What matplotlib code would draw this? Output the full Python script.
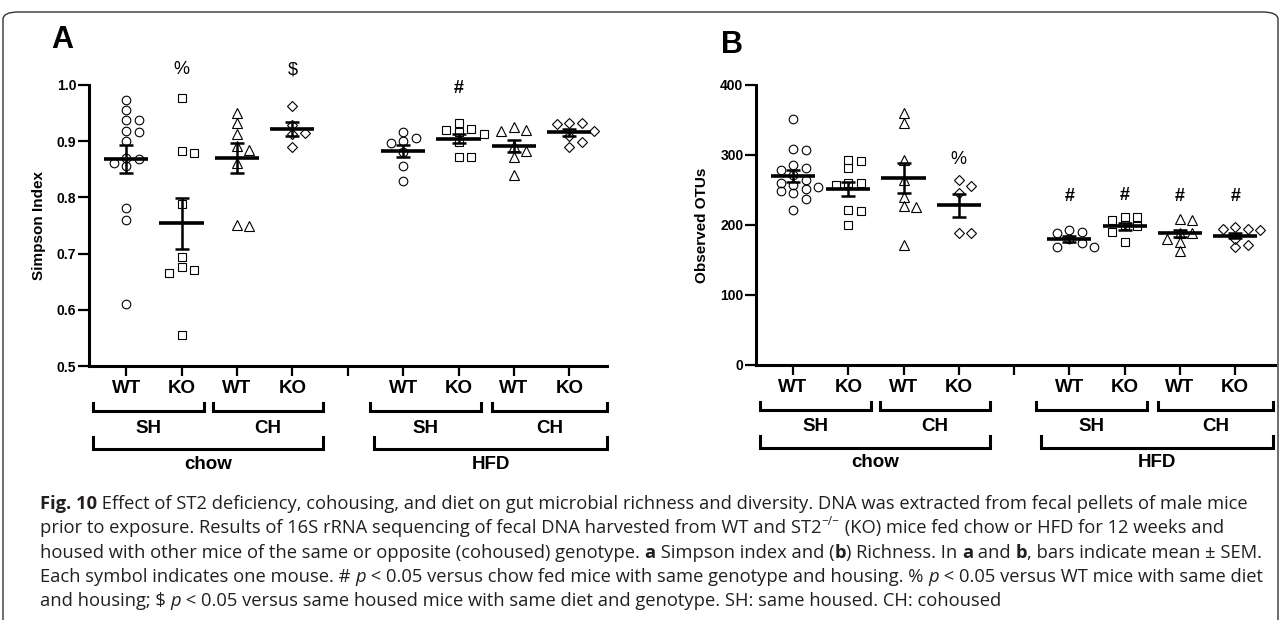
import numpy as np
import matplotlib
matplotlib.use("Agg")
import matplotlib.pyplot as plt
import matplotlib.transforms as mtransforms
from matplotlib.patches import FancyBboxPatch

plt.rcParams['font.family'] = ['Liberation Sans', 'DejaVu Sans']

W, H = 1281, 620

# group order: chow SH WT/KO, chow CH WT/KO, (gap), HFD SH WT/KO, HFD CH WT/KO
group_pos = [1, 2, 3, 4, 6, 7, 8, 9]
tick_pos = [1, 2, 3, 4, 5, 6, 7, 8, 9]
tick_labels = ['WT', 'KO', 'WT', 'KO', '', 'WT', 'KO', 'WT', 'KO']
markers = ['o', 's', '^', 'D', 'o', 's', '^', 'D']
marker_sizes = [6.2, 6.0, 6.6, 4.8, 6.2, 6.0, 6.6, 4.8]

# panel A - Simpson index
simpson_points = [
    [0.973, 0.956, 0.938, 0.937, 0.919, 0.917, 0.900, 0.870, 0.868, 0.862, 0.855, 0.781, 0.760, 0.611],
    [0.976, 0.882, 0.879, 0.788, 0.694, 0.677, 0.670, 0.666, 0.555],
    [0.950, 0.933, 0.913, 0.891, 0.884, 0.861, 0.751, 0.749],
    [0.963, 0.928, 0.914, 0.913, 0.890],
    [0.917, 0.905, 0.901, 0.896, 0.880, 0.856, 0.829],
    [0.933, 0.921, 0.920, 0.917, 0.913, 0.899, 0.871, 0.871],
    [0.926, 0.920, 0.919, 0.892, 0.883, 0.871, 0.840],
    [0.933, 0.933, 0.931, 0.919, 0.910, 0.899, 0.890],
]
simpson_mean = [0.868, 0.754, 0.870, 0.922, 0.883, 0.904, 0.892, 0.916]
simpson_sem = [0.025, 0.045, 0.026, 0.012, 0.011, 0.008, 0.011, 0.006]
simpson_marks = [(2, 1.027, '%'), (4, 1.027, '$'), (7, 0.994, '#')]

# panel B - observed OTUs
otu_points = [
    [352, 308, 307, 286, 281, 278, 271, 264, 260, 257, 254, 252, 248, 245, 237, 221],
    [293, 292, 281, 260, 260, 257, 221, 220, 200],
    [360, 345, 293, 264, 240, 227, 225, 171],
    [264, 256, 245, 189, 188],
    [193, 190, 188, 180, 175, 169, 169],
    [212, 212, 207, 200, 198, 190, 176],
    [208, 207, 189, 189, 180, 176, 163],
    [197, 195, 194, 193, 180, 171, 168],
]
otu_mean = [270, 251, 267, 228, 180, 198, 188, 185]
otu_sem = [9, 10, 22, 16, 4, 5, 5, 4]
otu_marks = [(4, 294, '%'), (6, 240, '#'), (7, 242, '#'), (8, 240, '#'), (9, 240, '#')]

# bracket rows (x0, x1, label)
housing_brackets = [(0.40, 2.41, 'SH'), (2.57, 4.56, 'CH'), (5.40, 7.41, 'SH'), (7.60, 9.68, 'CH')]
diet_brackets = [(0.40, 4.56, 'chow'), (5.48, 9.68, 'HFD')]

caption_lines = [
    [("Fig. 10", 'b'), (" Effect of ST2 deficiency, cohousing, and diet on gut microbial richness and diversity. DNA was extracted from fecal pellets of male mice", 'n')],
    [("prior to exposure. Results of 16S rRNA sequencing of fecal DNA harvested from WT and ST2", 'n'), ("\u2212/\u2212", 's'),
     (" (KO) mice fed chow or HFD for 12 weeks and", 'n')],
    [("housed with other mice of the same or opposite (cohoused) genotype. ", 'n'), ("a", 'b'), (" Simpson index and (", 'n'),
     ("b", 'b'), (") Richness. In ", 'n'), ("a", 'b'), (" and ", 'n'), ("b", 'b'), (", bars indicate mean \u00b1 SEM.", 'n')],
    [("Each symbol indicates one mouse. # ", 'n'), ("p", 'i'), (" < 0.05 versus chow fed mice with same genotype and housing. % ", 'n'),
     ("p", 'i'), (" < 0.05 versus WT mice with same diet", 'n')],
    [("and housing; $ ", 'n'), ("p", 'i'), (" < 0.05 versus same housed mice with same diet and genotype. SH: same housed. CH: cohoused", 'n')],
]


def swarm_offsets(ax, x0, values, min_dist=8.0, step=12.5):
    to_px = ax.transData.transform
    px_per_x = to_px((1, 0))[0] - to_px((0, 0))[0]
    ys = [to_px((x0, v))[1] for v in values]
    cands = [0.0]
    for j in range(1, 12):
        cands += [j * step, -j * step]
    placed = []
    res = [0.0] * len(values)
    for i in sorted(range(len(values)), key=lambda k: -values[k]):
        y = ys[i]
        for c in cands:
            if all((c - px) ** 2 + (y - py) ** 2 >= min_dist ** 2 for px, py in placed):
                break
        placed.append((c, y))
        res[i] = c / px_per_x
    return res


def draw_panel(ax, points, means, sems, marks, ylim, yticks, yfmt, ylabel, xlim):
    ax.set_xlim(*xlim)
    ax.set_ylim(*ylim)
    for g in range(len(group_pos)):
        x0 = group_pos[g]
        offs = swarm_offsets(ax, x0, points[g])
        ax.plot(np.array(offs) + x0, points[g], linestyle='none', marker=markers[g],
                markersize=marker_sizes[g], markerfacecolor='none', markeredgecolor='black',
                markeredgewidth=0.8, zorder=2, clip_on=False)
        ax.hlines(means[g], x0 - 0.4, x0 + 0.4, color='black', lw=2.6, zorder=3)
        ax.errorbar(x0, means[g], yerr=sems[g], fmt='none', ecolor='black', elinewidth=1.8,
                    capsize=4.8, capthick=1.8, zorder=3)
    for x, y, s in marks:
        ax.text(x, y, s, ha='center', va='center', fontsize=13,
                fontweight='bold' if s == '#' else 'normal', clip_on=False)

    for side in ['top', 'right']:
        ax.spines[side].set_visible(False)
    for side in ['left', 'bottom']:
        ax.spines[side].set_linewidth(2.2)
    ax.set_yticks(yticks)
    ax.set_yticklabels([yfmt % v for v in yticks])
    ax.set_xticks(tick_pos)
    ax.set_xticklabels(tick_labels)
    ax.tick_params(axis='y', length=8, width=1.6, labelsize=10, pad=1)
    ax.tick_params(axis='x', length=7, width=1.6, labelsize=13.5, pad=3)
    for lab in ax.get_xticklabels() + ax.get_yticklabels():
        lab.set_fontweight('bold')
    ax.set_ylabel(ylabel, fontsize=11, fontweight='bold', labelpad=8)

    tr = mtransforms.blended_transform_factory(ax.transData, ax.transAxes)
    for row, (y_line, y_top, y_lab) in zip([housing_brackets, diet_brackets],
                                          [(-0.160, -0.132, -0.221), (-0.295, -0.253, -0.349)]):
        for x0, x1, lab in row:
            ax.plot([x0, x0, x1, x1], [y_top, y_line, y_line, y_top], color='black', lw=2.2,
                    transform=tr, clip_on=False, solid_joinstyle='miter')
            ax.text((x0 + x1) / 2, y_lab, lab, transform=tr, ha='center', va='center',
                    fontsize=13.5, fontweight='bold')


fig = plt.figure(figsize=(W / 100, H / 100), dpi=100)

axA = fig.add_axes([89 / W, (H - 366) / H, (607 - 89) / W, (366 - 85) / H])
draw_panel(axA, simpson_points, simpson_mean, simpson_sem, simpson_marks, (0.5, 1.0),
           [0.5, 0.6, 0.7, 0.8, 0.9, 1.0], '%.1f', 'Simpson Index', (0.33, 9.68))

axB = fig.add_axes([756 / W, (H - 365) / H, (1275 - 756) / W, (365 - 85) / H])
draw_panel(axB, otu_points, otu_mean, otu_sem, otu_marks, (0, 400),
           [0, 100, 200, 300, 400], '%d', 'Observed OTUs', (0.33, 9.72))

fig.text(62 / W, 1 - 40 / H, 'A', fontsize=22, fontweight='bold', ha='center', va='center')
fig.text(732 / W, 1 - 45 / H, 'B', fontsize=22, fontweight='bold', ha='center', va='center')

# outer frame
frame = FancyBboxPatch((3 / W, -0.1), (W - 6) / W, 1.1 - 12 / H, boxstyle='round,pad=0,rounding_size=0.012',
                       transform=fig.transFigure, fill=False, edgecolor='#333333', lw=1.0)
fig.patches.append(frame)

# caption, drawn run by run
cap_font = ['Open Sans', 'DejaVu Sans']
cap_size = 13.2
ident = mtransforms.IdentityTransform()
renderer = fig.canvas.get_renderer()
for k, runs in enumerate(caption_lines):
    x = 40
    y = H - (503 + 24.3 * k) - 6
    for txt, style in runs:
        kw = dict(fontsize=cap_size, family=cap_font, color='#231f20', ha='left', va='baseline',
                  transform=ident)
        yy = y
        if style == 'b':
            kw['fontweight'] = 'bold'
        elif style == 'i':
            kw['fontstyle'] = 'italic'
        elif style == 's':
            kw['fontsize'] = cap_size * 0.65
            yy = y + 8
        t = fig.text(x, yy, txt, **kw)
        x += t.get_window_extent(renderer).width

fig.savefig('out.png', dpi=100)
